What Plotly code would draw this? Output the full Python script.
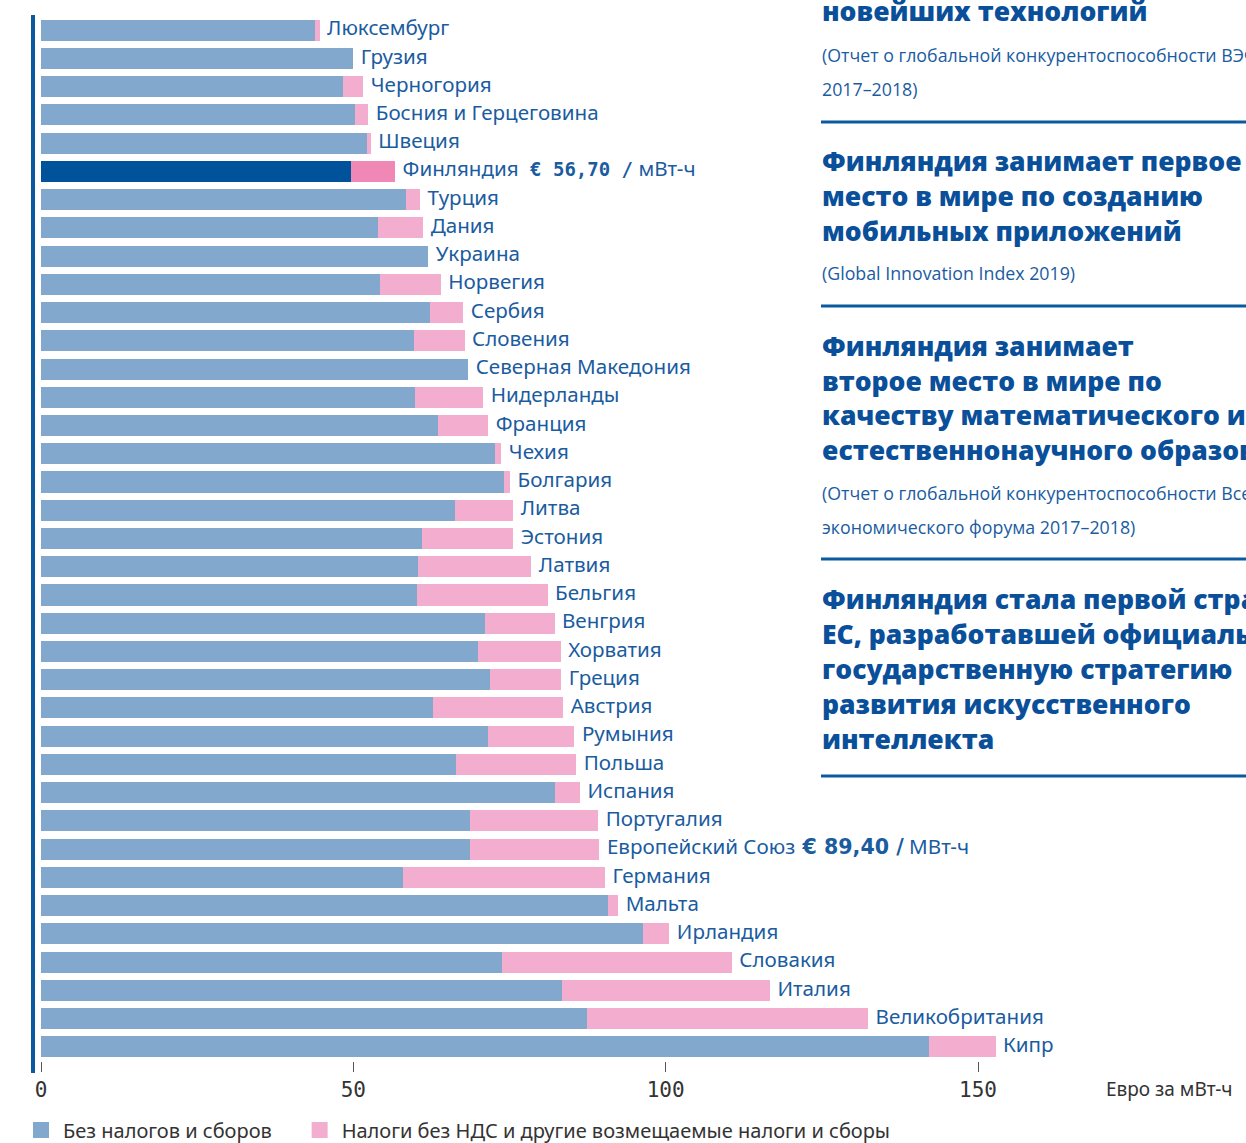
import plotly.graph_objects as go

# ---------------- data ----------------
countries = [
    "Люксембург", "Грузия", "Черногория", "Босния и Герцеговина", "Швеция",
    "Финляндия", "Турция", "Дания", "Украина", "Норвегия", "Сербия", "Словения",
    "Северная Македония", "Нидерланды", "Франция", "Чехия", "Болгария", "Литва",
    "Эстония", "Латвия", "Бельгия", "Венгрия", "Хорватия", "Греция", "Австрия",
    "Румыния", "Польша", "Испания", "Португалия", "Европейский Союз", "Германия",
    "Мальта", "Ирландия", "Словакия", "Италия", "Великобритания", "Кипр",
]
base = [
    43.8, 50.0, 48.3, 50.3, 52.2,
    49.7, 58.5, 54.0, 62.0, 54.3, 62.2, 59.7,
    68.4, 59.9, 63.5, 72.7, 74.1, 66.3,
    61.0, 60.4, 60.2, 71.1, 69.9, 71.9, 62.7,
    71.6, 66.5, 82.2, 68.7, 68.7, 58.0,
    90.8, 96.4, 73.8, 83.4, 87.4, 142.1,
]
taxes = [
    0.8, 0.0, 3.3, 2.1, 0.6,
    7.0, 2.2, 7.2, 0.0, 9.7, 5.4, 8.1,
    0.0, 10.9, 8.1, 1.0, 1.0, 9.3,
    14.6, 18.1, 20.9, 11.1, 13.3, 11.4, 20.9,
    13.8, 19.2, 4.1, 20.5, 20.7, 32.3,
    1.6, 4.2, 36.8, 33.3, 45.0, 10.7,
]
label_suffix = {
    "Финляндия": "<span style='font-family:DejaVu Sans Mono;font-size:19px'><b>\u00a0€ 56,70 /</b></span>\u00a0мВт-ч",
    "Европейский Союз": "<span style='font-family:DejaVu Sans'><b>\u00a0€ 89,40 /</b></span>\u00a0МВт-ч",
}
highlight = "Финляндия"
tick_vals = [0, 50, 100, 150]
tick_text = ["0", "50", "100", "150"]
series_names = ["Без налогов и сборов", "Налоги без НДС и другие возмещаемые налоги и сборы"]
axis_unit = "Евро за мВт-ч"

side_blocks = [
    # (lines, kind, y_pixel_of_first_line, line_step)
    (["новейших технологий"], "head", 11, 35),
    (["(Отчет о глобальной конкурентоспособности ВЭФ", "2017–2018)"], "src", 55, 34),
    (["Финляндия занимает первое", "место в мире по созданию", "мобильных приложений"], "head", 161, 35),
    (["(Global Innovation Index 2019)"], "src", 273, 34),
    (["Финляндия занимает", "второе место в мире по", "качеству математического и",
      "естественнонаучного образования"], "head", 346, 34.7),
    (["(Отчет о глобальной конкурентоспособности Всемирного",
      "экономического форума 2017–2018)"], "src", 493, 34),
    (["Финляндия стала первой страной", "ЕС, разработавшей официальную",
      "государственную стратегию", "развития искусственного", "интеллекта"], "head", 599, 35),
]
rule_y = [122, 306, 559, 776]

# ---------------- style ----------------
BLUE = "#82a9cd"
PINK = "#f3aecf"
FIN_BLUE = "#00529b"
FIN_PINK = "#f088b6"
TXT_BLUE = "#1a5c9f"
HEAD_BLUE = "#0a4f9a"
GREY = "#333333"

W, H = 1246, 1143
ML, MR, MT, MB = 41, 0, 16, 82
PW, PH = W - ML - MR, H - MT - MB
PX_PER_UNIT = 6.247


def px(xp):
    return (xp - ML) / PW


def py(yp):
    return (H - MB - yp) / PH


base_colors = [FIN_BLUE if c == highlight else BLUE for c in countries]
tax_colors = [FIN_PINK if c == highlight else PINK for c in countries]
totals = [b + t for b, t in zip(base, taxes)]
labels = ["\u00a0\u200a" + c + label_suffix.get(c, "") for c in countries]

fig = go.Figure()
fig.add_trace(go.Bar(
    y=countries, x=base, orientation="h", name=series_names[0],
    marker=dict(color=base_colors, line=dict(width=0)),
    hoverinfo="skip", showlegend=False,
))
fig.add_trace(go.Bar(
    y=countries, x=taxes, orientation="h", name=series_names[1],
    marker=dict(color=tax_colors, line=dict(width=0)),
    hoverinfo="skip", showlegend=False,
))
fig.add_trace(go.Scatter(
    y=countries, x=totals, mode="text", text=labels,
    textposition="middle right", showlegend=False, cliponaxis=False,
    textfont=dict(family="Noto Sans", size=20.6, color=TXT_BLUE),
    hoverinfo="skip",
))
# legend entries with large square swatches
legend_pad = ["\u00a0" * 4, ""]
for nm, col, pad in zip(series_names, [BLUE, PINK], legend_pad):
    fig.add_trace(go.Scatter(
        x=[None], y=[None], mode="markers", name=nm + pad,
        marker=dict(symbol="square", size=20, color=col),
    ))

annotations = []
for lines, kind, y0, step in side_blocks:
    for i, line in enumerate(lines):
        if kind == "head":
            font = dict(family="Open Sans", size=26.5, color=HEAD_BLUE, weight=800)
        else:
            font = dict(family="Open Sans", size=17.8, color=TXT_BLUE)
        annotations.append(dict(
            xref="paper", yref="paper", x=px(820), y=py(y0 + i * step),
            xanchor="left", yanchor="middle", text=line, showarrow=False,
            font=font,
        ))
annotations.append(dict(
    xref="paper", yref="paper", x=px(1104), y=py(1089),
    xanchor="left", yanchor="middle", text=axis_unit, showarrow=False,
    font=dict(family="Noto Sans", size=19, color=GREY),
))

shapes = [dict(
    type="line", xref="paper", yref="paper", x0=px(33), x1=px(33),
    y0=py(1073), y1=py(15), line=dict(color="#0b5aa0", width=4),
)]
for yy in rule_y:
    shapes.append(dict(
        type="line", xref="paper", yref="paper", x0=px(821), x1=px(1250),
        y0=py(yy), y1=py(yy), line=dict(color="#0b5aa0", width=3),
    ))

n = len(countries)
fig.update_layout(
    width=W, height=H, autosize=False,
    margin=dict(l=ML, r=MR, t=MT, b=MB, pad=0, autoexpand=False),
    paper_bgcolor="white", plot_bgcolor="white",
    barmode="stack", bargap=0.255,
    xaxis=dict(
        range=[0, PW / PX_PER_UNIT], tickvals=tick_vals, ticktext=tick_text,
        showgrid=False, zeroline=False, showline=False,
        ticks="outside", ticklen=10, tickcolor="#555555", tickwidth=1,
        tickfont=dict(family="DejaVu Sans Mono", size=21, color=GREY),
        ticklabelstandoff=0, automargin=False,
    ),
    yaxis=dict(
        range=[n - 0.5, -0.5], showticklabels=False, showgrid=False,
        zeroline=False, showline=False, ticks="", automargin=False,
    ),
    showlegend=True,
    legend=dict(
        orientation="h", xref="paper", yref="paper", x=px(19), y=py(1130),
        xanchor="left", yanchor="middle",
        font=dict(family="Noto Sans", size=20, color=GREY),
        itemsizing="trace", traceorder="normal", itemwidth=34,
    ),
    annotations=annotations,
    shapes=shapes,
)

fig.write_html(
    "out.html",
    config={"displayModeBar": False},
    post_script="document.body.style.margin='0';document.body.style.overflow='hidden';",
)
